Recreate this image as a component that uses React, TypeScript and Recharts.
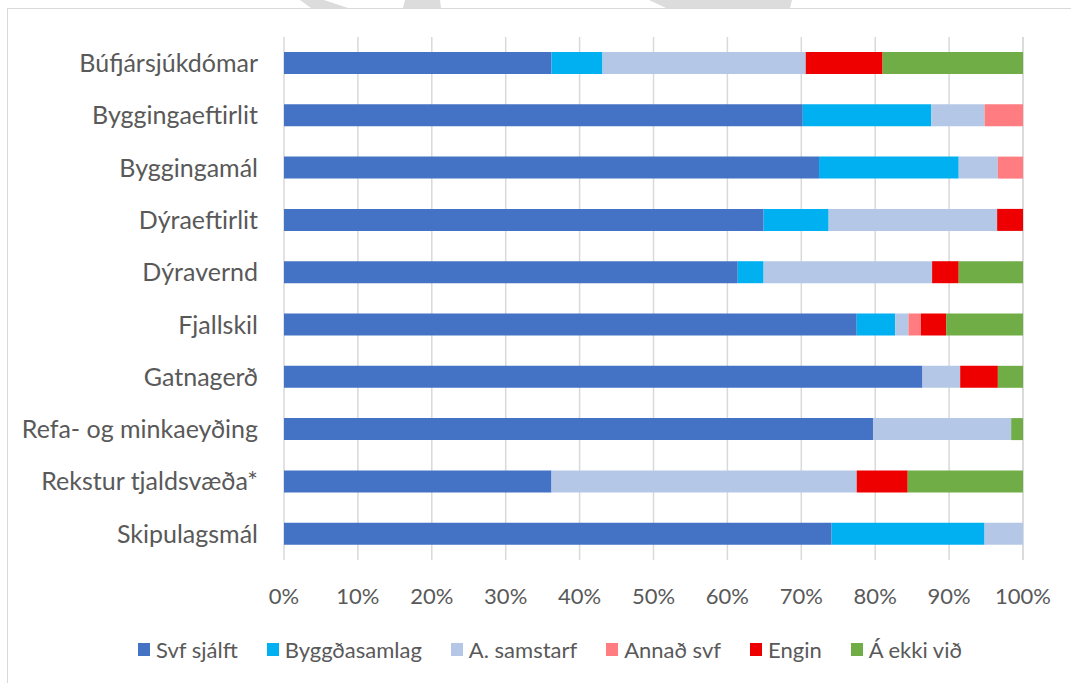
import React from 'react';
import { BarChart, Bar, XAxis, YAxis, CartesianGrid, Legend } from 'recharts';

const categories = ['Búfjársjúkdómar', 'Byggingaeftirlit', 'Byggingamál', 'Dýraeftirlit', 'Dýravernd', 'Fjallskil', 'Gatnagerð', 'Refa- og minkaeyðing', 'Rekstur tjaldsvæða*', 'Skipulagsmál'];
const svfSjalft = [36.2, 70.2, 72.4, 64.9, 61.4, 77.5, 86.4, 79.7, 36.2, 74.1];
const byggdasamlag = [6.9, 17.4, 18.9, 8.8, 3.5, 5.2, 0, 0, 0, 20.7];
const aSamstarf = [27.5, 7.2, 5.3, 22.8, 22.8, 1.8, 5.1, 18.7, 41.3, 5.2];
const annadSvf = [0, 5.2, 3.4, 0, 0, 1.7, 0, 0, 0, 0];
const engin = [10.4, 0, 0, 3.5, 3.6, 3.4, 5.1, 0, 6.9, 0];
const aEkkiVid = [19.0, 0, 0, 0, 8.7, 10.4, 3.4, 1.6, 15.6, 0];
const xTicks = [0, 10, 20, 30, 40, 50, 60, 70, 80, 90, 100];

const seriesNames = ['Svf sjálft', 'Byggðasamlag', 'A. samstarf', 'Annað svf', 'Engin', 'Á ekki við'];
const seriesValues = [svfSjalft, byggdasamlag, aSamstarf, annadSvf, engin, aEkkiVid];
const seriesColors = ['#4472C4', '#00B0F0', '#B4C7E7', '#FF7C80', '#EE0000', '#70AD47'];
const keys = ['s0', 's1', 's2', 's3', 's4', 's5'];

const data = categories.map((c, i) => {
  const row: any = { name: c };
  keys.forEach((k, j) => { row[k] = seriesValues[j][i]; });
  return row;
});

const FONT = 'Lato, "Open Sans", sans-serif';
const TEXT = '#595959';

const LegendContent = () => (
  <div style={{ display: 'flex', justifyContent: 'center', alignItems: 'center', fontFamily: FONT, fontSize: 22, color: TEXT }}>
    {seriesNames.map((n, i) => (
      <div key={n} style={{ display: 'flex', alignItems: 'center', marginRight: i < seriesNames.length - 1 ? 29 : 0 }}>
        <div style={{ width: 12, height: 13, background: seriesColors[i], marginRight: 6 }} />
        <span>{n}</span>
      </div>
    ))}
  </div>
);

export default function App() {
  return (
    <div style={{ position: 'absolute', left: 0, top: 0, width: 1071, height: 683, overflow: 'hidden', background: '#fff' }}>
      <svg style={{ position: 'absolute', left: 0, top: 0 }} width={1071} height={10}>
        <polygon points="300,0 324,0 348,8 311,8" fill="#dcdcdc" />
        <polygon points="405,0 440,0 441,8 403,8" fill="#dcdcdc" />
        <polygon points="649,0 792,0 790,8 666,8" fill="#dcdcdc" />
      </svg>
      <div style={{ position: 'absolute', left: 7, top: 8, width: 1100, height: 720, border: '1px solid #d9d9d9', boxSizing: 'border-box' }} />
      <div style={{ position: 'absolute', left: 0, top: 0 }}>
        <BarChart
          width={1071}
          height={683}
          data={data}
          layout="vertical"
          margin={{ top: 37, right: 48, bottom: 83, left: 0 }}
          barSize={22}
        >
          <CartesianGrid horizontal={false} stroke="#d9d9d9" strokeWidth={1.5} />
          <XAxis
            type="number"
            domain={[0, 100]}
            ticks={xTicks}
            tickFormatter={(v: number) => `${v}%`}
            axisLine={false}
            tickLine={false}
            tickSize={0}
            tickMargin={28}
            height={40}
            interval={0}
            tick={{ fill: TEXT, fontSize: 22, fontFamily: FONT }}
          />
          <YAxis
            type="category"
            dataKey="name"
            width={284}
            axisLine={false}
            tickLine={false}
            tickSize={0}
            tickMargin={26}
            interval={0}
            tick={{ fill: TEXT, fontSize: 25, fontFamily: FONT }}
          />
          <Legend
            layout="horizontal"
            verticalAlign="middle"
            align="center"
            content={<LegendContent />}
            wrapperStyle={{ left: 0, top: 636, width: 1100 }}
          />
          {keys.map((k, j) => (
            <Bar key={k} dataKey={k} name={seriesNames[j]} stackId="a" fill={seriesColors[j]} isAnimationActive={false} />
          ))}
        </BarChart>
      </div>
    </div>
  );
}
